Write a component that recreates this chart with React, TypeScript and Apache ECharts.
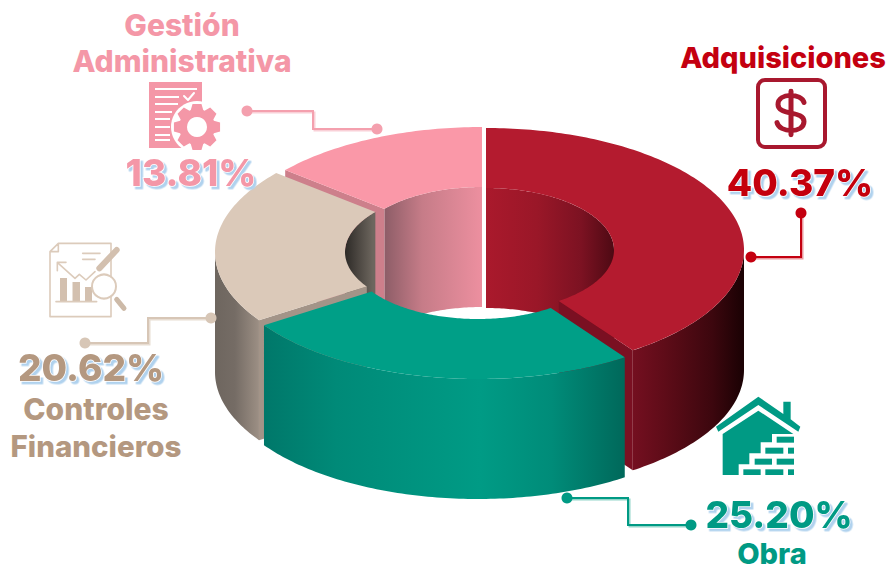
import React, { useEffect, useRef } from "react";
import * as echarts from "echarts";

const categories = ["Adquisiciones", "Obra", "Controles Financieros", "Gestión Administrativa"];
const values = [40.37, 25.2, 20.62, 13.81];
const drawOrder = [3, 2, 0, 1];

const CX = 485, CY = 250, RX = 258, RY = 122, IRX = 128, IRY = 62, DEPTH = 120;

type G = [number, string][];
const looks = [
  { dx: 1, dy: 0, top: "#b41b2f", face: "#7a1022",
    outer: [624, 742, [[0, "#7a1022"], [0.35, "#5e0c18"], [0.75, "#3c070e"], [1, "#1c0204"]] as G],
    inner: [486, 613, [[0, "#aa192c"], [0.4, "#9a1728"], [0.75, "#7c1222"], [1, "#4f0a14"]] as G] },
  { dx: -7, dy: 7, top: "#009f87", face: "#00786a",
    outer: [265, 623, [[0, "#00786a"], [0.2, "#008a78"], [0.6, "#009b85"], [0.8, "#008c79"], [1, "#00695b"]] as G],
    inner: [265, 623, [[0, "#00786a"], [1, "#00786a"]] as G] },
  { dx: -12, dy: 2, top: "#dbc9b9", face: "#a39488",
    outer: [215, 265, [[0, "#6e665f"], [0.4, "#756c65"], [1, "#a6988c"]] as G],
    inner: [344, 373, [[0, "#2b2825"], [1, "#6d665e"]] as G] },
  { dx: -3, dy: -1, top: "#fa98a8", face: "#cd7f8b",
    outer: [280, 481, [[0, "#cd7f8b"], [1, "#cd7f8b"]] as G],
    inner: [383, 481, [[0, "#8b5c66"], [0.4, "#c67c88"], [1, "#ec8f9f"]] as G] },
];

const gradient = (g: any) =>
  new echarts.graphic.LinearGradient(g[0], 0, g[1], 0, g[2].map((s: any) => ({ offset: s[0], color: s[1] })), true);

function arc(a: number, b: number, rx: number, ry: number, dx: number, dy: number) {
  const pts: number[][] = [];
  const n = Math.max(2, Math.ceil(Math.abs(b - a)));
  for (let i = 0; i <= n; i++) {
    const t = ((a + ((b - a) * i) / n) * Math.PI) / 180;
    pts.push([CX + dx + rx * Math.sin(t), CY + dy - ry * Math.cos(t)]);
  }
  return pts;
}
const down = (pts: number[][]) => pts.map((p) => [p[0], p[1] + DEPTH]).reverse();

function renderSlice(params: any, api: any) {
  const idx = api.value(2);
  const start = (api.value(1) / 100) * 360;
  const end = start + (api.value(0) / 100) * 360;
  const k = looks[idx];
  const children: any[] = [];
  const poly = (points: number[][], fill: any) =>
    children.push({ type: "polygon", shape: { points }, style: { fill, stroke: null } });

  // inner wall: only the far half of the hole shows
  [[Math.max(start, 270), Math.min(end, 360)], [Math.max(start, 0), Math.min(end, 90)]].forEach(([a, b]) => {
    if (b > a) {
      const p = arc(a, b, IRX, IRY, k.dx, k.dy);
      poly(p.concat(down(p)), gradient(k.inner));
    }
  });
  // cut faces turned to the viewer
  const face = (deg: number) => {
    const o = arc(deg, deg, RX, RY, k.dx, k.dy)[0];
    const i = arc(deg, deg, IRX, IRY, k.dx, k.dy)[0];
    poly([i, o, [o[0], o[1] + DEPTH], [i[0], i[1] + DEPTH]], k.face);
  };
  const sin = (d: number) => Math.sin((d * Math.PI) / 180);
  if (sin(start) < -1e-6) face(start);
  if (sin(end) > 1e-6) face(end);
  // outer wall: only the near half
  const oa = Math.max(start, 90), ob = Math.min(end, 270);
  if (ob > oa) {
    const p = arc(oa, ob, RX, RY, k.dx, k.dy);
    poly(p.concat(down(p)), gradient(k.outer));
  }
  // top surface
  poly(arc(start, end, RX, RY, k.dx, k.dy).concat(arc(end, start, IRX, IRY, k.dx, k.dy)), k.top);
  return { type: "group", children };
}

echarts.graphic.registerShape(
  "dollar",
  echarts.graphic.extendPath("M13 -11 C11 -21 -13 -22 -13 -9 C-13 3 13 -3 13 9 C13 22 -12 21 -14 10 M0 -23 L0 23", {}) as any
);

function label(text: string, x: number, y: number, color: string, size: number, shadow: boolean) {
  const style: any = { text, x, y, fill: color, font: `800 ${size}px Inter`, align: "center", verticalAlign: "middle" };
  if (shadow) {
    style.stroke = "#ffffff";
    style.lineWidth = 1.5;
    style.textShadowColor = "#b0d2ee";
    style.textShadowBlur = 0.4;
    style.textShadowOffsetX = 2.5;
    style.textShadowOffsetY = 2.5;
  }
  return { type: "text", style, z: 20 };
}

function connector(points: number[][], color: string, light: string) {
  const a = points[0], b = points[points.length - 1];
  return [
    { type: "polyline", shape: { points: points.map((p) => [p[0] + 1.5, p[1] + 1.5]) }, style: { stroke: light, lineWidth: 2, fill: null }, z: 10 },
    { type: "polyline", shape: { points }, style: { stroke: color, lineWidth: 2, fill: null }, z: 11 },
    { type: "circle", shape: { cx: a[0], cy: a[1], r: 5.5 }, style: { fill: color }, z: 12 },
    { type: "circle", shape: { cx: b[0], cy: b[1], r: 5.5 }, style: { fill: color }, z: 12 },
  ];
}

const rect = (x: number, y: number, w: number, h: number, fill: string, z = 15) => ({ type: "rect", shape: { x, y, width: w, height: h }, style: { fill }, z });
const pl = (points: number[][], stroke: string, lineWidth: number, z = 15, fill: any = null) => ({ type: "polyline", shape: { points }, style: { stroke, lineWidth, fill, lineCap: "round", lineJoin: "round" }, z });
const pg = (points: number[][], fill: string, z = 15) => ({ type: "polygon", shape: { points }, style: { fill }, z });

function gear(cx: number, cy: number, rOut: number, rIn: number, teeth: number) {
  const pts: number[][] = [];
  for (let i = 0; i < teeth; i++) {
    const c = (i / teeth) * Math.PI * 2;
    const w = (Math.PI * 2) / teeth;
    [[-0.5, rIn], [-0.27, rOut], [0.27, rOut], [0.5, rIn]].forEach(([o, r]) => {
      pts.push([cx + r * Math.cos(c + o * w * 0.9), cy + r * Math.sin(c + o * w * 0.9)]);
    });
  }
  return pts;
}

function pinkIcon() {
  const P = "#f497a7";
  const lines = [[89, 42], [97, 24], [104, 23], [112, 17], [119, 15], [127, 15], [135, 15], [140, 15]];
  return [
    rect(149, 82, 53, 66, P),
    ...lines.map(([y, w]) => rect(155, y - 1, w, 2, "#ffffff", 16)),
    pl([[184, 96], [188, 100], [194, 93]], "#ffffff", 2, 16),
    { type: "circle", shape: { cx: 197, cy: 127, r: 26 }, style: { fill: "#ffffff" }, z: 17 },
    pg(gear(197, 127, 23.5, 18, 8), P, 18),
    { type: "circle", shape: { cx: 197, cy: 127, r: 10 }, style: { fill: "#ffffff" }, z: 19 },
  ];
}

function beigeIcon() {
  const B = "#dccbbb";
  const S = (p: number[][]) => p.map(([x, y]) => [x / 3, 230 + y / 3]);
  return [
    pl(S([[175, 40], [333, 40], [333, 260], [150, 260], [150, 65], [175, 40], [175, 65], [150, 65]]), B, 1.6),
    rect(60, 278, 7, 24, "#d3c0af"),
    rect(72.5, 282, 7.5, 20, "#d3c0af"),
    rect(85, 287, 7, 15, "#d3c0af"),
    pl(S([[168, 215], [290, 215]]), B, 1.6),
    pl(S([[175, 100], [225, 145], [238, 133], [258, 150], [285, 125]]), B, 1.6),
    pl(S([[172, 122], [172, 97], [198, 97]]), B, 1.6),
    pl(S([[248, 70], [300, 70]]), B, 1.6),
    pl(S([[248, 88], [285, 88]]), B, 1.6),
    pl(S([[350, 60], [298, 115]]), "#d3c0af", 6),
    { type: "circle", shape: { cx: 104, cy: 286.5, r: 12 }, style: { fill: "#ffffff", stroke: B, lineWidth: 2 }, z: 16 },
    pl(S([[350, 208], [372, 235]]), "#cdbaa8", 5, 16),
  ];
}

function dollarIcon() {
  const R = "#a8182e";
  return [
    { type: "rect", shape: { x: 758, y: 80, width: 67, height: 67, r: 7 }, style: { fill: "#ffffff", stroke: R, lineWidth: 4 }, z: 15 },
    { type: "dollar", x: 791, y: 113, scaleX: 1, scaleY: 0.95, style: { fill: "none", stroke: R, lineWidth: 5, lineCap: "round" }, z: 16 },
  ];
}

function houseIcon() {
  const H = "#009a84";
  const S = (p: number[][]) => p.map(([x, y]) => [540 + x / 3, 290 + y / 3]);
  const bricks = [[710, 440, 762, 458], [676, 473, 730, 491], [744, 473, 762, 491], [644, 506, 696, 524], [710, 506, 762, 524], [610, 538, 662, 555], [676, 538, 730, 555], [744, 538, 762, 555]];
  return [
    pg(S([[528, 410], [655, 320], [730, 372], [730, 335], [752, 335], [752, 388], [781, 410], [775, 425], [655, 345], [535, 425]]), H),
    pg(S([[655, 362], [760, 432], [696, 432], [696, 457], [662, 457], [662, 490], [628, 490], [628, 523], [596, 523], [596, 555], [548, 555], [548, 432]]), H),
    ...bricks.map(([a, b, c, d]) => rect(540 + a / 3, 290 + b / 3, (c - a) / 3, (d - b) / 3, H)),
  ];
}

const pct = (v: number) => v.toFixed(2) + "%";

export default function App() {
  const ref = useRef<HTMLDivElement>(null);
  useEffect(() => {
    document.body.style.margin = "0";
    const chart = echarts.init(ref.current!, null, { renderer: "svg" });
    const before = values.map((_, i) => values.slice(0, i).reduce((s, v) => s + v, 0));
    const total = values.reduce((s, v) => s + v, 0);
    const [R, G, B, P] = ["#c40010", "#009a84", "#b49880", "#f497a7"];
    chart.setOption({
      animation: false,
      backgroundColor: "#ffffff",
      tooltip: { show: false },
      series: [
        {
          type: "custom",
          name: "Distribución",
          coordinateSystem: "none",
          silent: true,
          renderItem: renderSlice,
          data: drawOrder.map((i) => ({
            name: categories[i],
            value: [(values[i] / total) * 100, (before[i] / total) * 100, i],
          })),
        },
      ],
      graphic: {
        elements: [
          label("Gestión", 182, 25, P, 30, false),
          label("Administrativa", 182, 61, P, 30, false),
          label(pct(values[3]), 191, 172, P, 37, true),
          label("Adquisiciones", 783, 57, R, 29, false),
          label(pct(values[0]), 800, 182, R, 37, true),
          label(pct(values[1]), 779, 514, G, 37, true),
          label("Obra", 772, 553, G, 29, false),
          label(pct(values[2]), 91, 367, B, 37, true),
          label("Controles", 96, 409, B, 30, false),
          label("Financieros", 96, 446, B, 29.5, false),
          ...connector([[247, 111], [313, 111], [313, 129], [377, 129]], "#f4a0ae", "#f9d0d7"),
          ...connector([[211, 318], [148, 318], [148, 343], [85, 343]], "#d7c6b6", "#e8ddd2"),
          ...connector([[801, 213], [801, 257], [751, 257]], "#c40010", "#ea9a9f"),
          ...connector([[567, 498], [628, 498], [628, 525], [691, 525]], "#009a84", "#93d6ca"),
          ...pinkIcon(),
          ...beigeIcon(),
          ...dollarIcon(),
          ...houseIcon(),
        ],
      },
    });
    return () => chart.dispose();
  }, []);
  return <div ref={ref} style={{ position: "fixed", left: 0, top: 0, width: 888, height: 571 }} />;
}
